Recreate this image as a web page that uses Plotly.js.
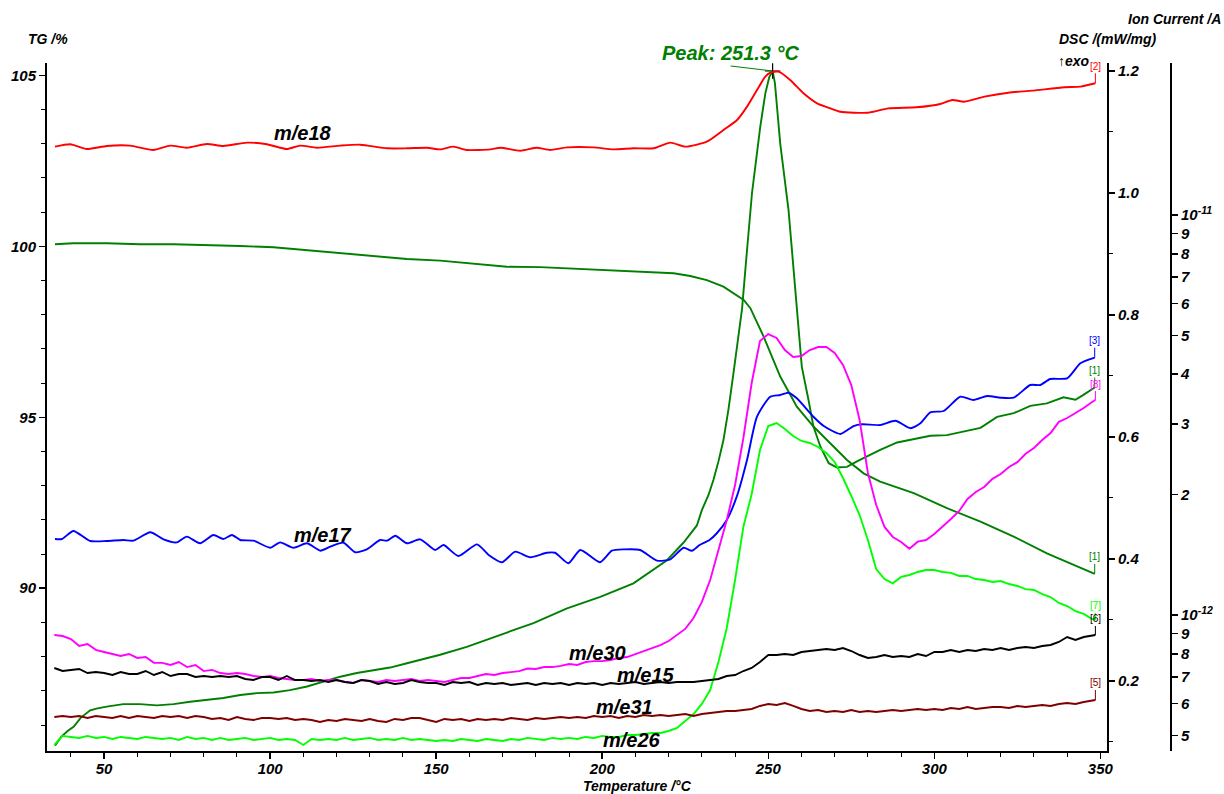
<!DOCTYPE html>
<html><head><meta charset="utf-8">
<script src="https://cdn.plot.ly/plotly-3.0.1.min.js"></script>
<style>html,body{margin:0;padding:0;background:#fff;}#chart{width:1224px;height:794px;}</style>
</head><body><div id="chart"></div>
<script>
// ---------- DATA ----------
// TG (%) vs temperature (°C)
const tgT = [35.2,40.75,50.8,60.8,70.9,80.9,91.0,101.0,111.1,121.1,131.1,141.2,151.2,161.2,171.3,181.3,191.4,201.4,211.4,221.5,226.5,231.5,236.5,239.5,242.6,244.6,248.6,253.6,258.6,263.6,268.7,273.7,278.7,283.7,293.8,303.8,313.9,323.9,333.9,348.3];
const tgV = [100.06,100.09,100.09,100.06,100.06,100.04,100.01,99.97,99.89,99.81,99.73,99.63,99.58,99.50,99.40,99.39,99.34,99.31,99.26,99.21,99.13,99.01,98.82,98.63,98.43,98.19,97.36,96.19,95.31,94.73,94.24,93.75,93.36,93.12,92.78,92.34,91.95,91.51,91.02,90.42];

// DSC (mW/mg)
const dscT = [35.2,37.0,39.0,40.8,43.0,45.8,48.0,50.8,55.8,60.8,65.9,70.9,75.9,80.9,85.9,91.0,96.0,101.0,106.0,111.1,116.1,121.1,126.1,131.1,136.1,141.2,146.2,151.2,159.2,169.3,179.3,189.4,199.4,209.4,214.5,219.5,224.5,228.5,230.0,232.0,233.5,235.0,236.5,238.0,239.5,241.0,242.1,243.5,245.1,247.6,249.1,250.3,251.3,252.0,253.6,256.1,258.3,260.1,262.1,263.6,265.7,268.2,270.7,273.7,276.7,279.7,283.7,288.8,293.8,298.8,303.8,308.8,313.9,318.9,323.9,328.9,333.9,338.9,342.5,344.9,348.3];
const dscV = [0.094,0.108,0.118,0.125,0.140,0.152,0.155,0.158,0.162,0.162,0.160,0.162,0.166,0.169,0.172,0.177,0.180,0.181,0.185,0.191,0.199,0.207,0.213,0.217,0.222,0.229,0.236,0.243,0.256,0.275,0.295,0.319,0.338,0.360,0.379,0.398,0.427,0.455,0.480,0.505,0.530,0.560,0.595,0.645,0.704,0.765,0.810,0.900,1.000,1.109,1.163,1.190,1.200,1.180,1.081,0.972,0.825,0.715,0.661,0.617,0.584,0.557,0.550,0.551,0.560,0.568,0.579,0.591,0.596,0.602,0.603,0.609,0.615,0.633,0.639,0.651,0.655,0.665,0.661,0.669,0.681];

// Ion currents, values in units of 1e-12 A
const me18T = [35.2,39.8,44.8,50.8,57.8,64.8,69.9,74.9,80.9,85.9,93.0,99.0,105.0,109.0,114.1,121.1,127.1,135.2,141.2,147.2,151.2,155.2,159.2,166.3,169.3,175.3,180.3,184.3,189.4,197.4,203.4,209.4,215.5,220.5,225.0,231.5,236.5,240.6,243.6,246.6,249.1,250.6,253.1,256.6,260.6,264.7,268.7,271.7,280.1,286.1,294.6,301.8,305.4,309.0,315.1,322.3,329.5,339.2,344.0,348.5];
const me18V = [14.82,15.03,14.62,14.88,14.91,14.54,14.91,14.73,15.05,14.88,15.17,15.03,14.62,14.91,14.73,14.91,14.99,14.68,14.68,14.73,14.59,14.82,14.54,14.59,14.73,14.48,14.73,14.54,14.76,14.76,14.59,14.68,14.68,15.17,14.82,15.25,16.31,17.28,18.66,20.54,22.17,22.69,22.82,21.75,20.15,19.02,18.48,18.12,18.02,18.48,18.59,18.95,19.39,19.20,19.76,20.22,20.46,20.86,20.94,21.35];

const me17T = [35.2,37.3,40.75,45.8,50.8,55.8,58.8,63.9,67.9,71.9,74.9,78.9,82.9,85.9,88.5,91.0,95.0,100.0,103.0,107.0,111.1,115.1,118.1,122.1,125.6,129.1,133.1,135.2,137.7,141.2,145.2,149.7,152.2,156.7,162.3,165.8,169.8,173.8,178.3,183.3,185.8,189.8,193.4,199.3,202.9,206.4,211.4,216.5,220.5,224.5,227.0,229.3,232.3,234.5,237.5,240.5,243.6,246.6,250.6,253.6,256.1,258.6,263.6,266.7,271.7,275.7,278.2,283.7,288.3,292.8,295.8,298.8,302.8,307.8,311.8,315.9,319.9,323.9,328.9,331.9,334.9,340.0,344.0,348.3];
const me17V = [1.549,1.549,1.622,1.531,1.531,1.540,1.534,1.610,1.546,1.519,1.570,1.511,1.585,1.549,1.585,1.540,1.534,1.473,1.519,1.473,1.511,1.448,1.482,1.516,1.435,1.459,1.540,1.534,1.578,1.511,1.546,1.454,1.496,1.404,1.502,1.413,1.355,1.440,1.394,1.431,1.431,1.347,1.454,1.355,1.448,1.459,1.454,1.367,1.378,1.473,1.448,1.496,1.540,1.601,1.728,1.976,2.441,3.131,3.513,3.548,3.595,3.481,3.131,2.968,2.835,2.968,2.998,2.985,3.060,2.930,3.015,3.212,3.236,3.513,3.447,3.527,3.493,3.493,3.758,3.758,3.890,3.906,4.258,4.398];

// common temperature grid for the noisy ion-current channels
const tempGrid = [35,37.5,40,42.5,45,47.5,50,52.5,55,57.5,
60,62.5,65,67.5,70,72.5,75,77.5,80,82.5,
85,87.5,90,92.5,95,97.5,100,102.5,105,107.5,
110,112.5,115,117.5,120,122.5,125,127.5,130,132.5,
135,137.5,140,142.5,145,147.5,150,152.5,155,157.5,
160,162.5,165,167.5,170,172.5,175,177.5,180,182.5,
185,187.5,190,192.5,195,197.5,200,202.5,205,207.5,
210,212.5,215,217.5,220,222.5,225,227.5,230,232.5,
235,237.5,240,242.5,245,247.5,250,252.5,255,257.5,
260,262.5,265,267.5,270,272.5,275,277.5,280,282.5,
285,287.5,290,292.5,295,297.5,300,302.5,305,307.5,
310,312.5,315,317.5,320,322.5,325,327.5,330,332.5,
335,337.5,340,342.5,345,347.5,348.5];

const me30V = [0.891,0.886,0.871,0.837,0.846,0.818,0.808,0.799,0.790,0.799,
0.781,0.785,0.759,0.759,0.750,0.763,0.741,0.750,0.724,0.729,
0.716,0.712,0.716,0.712,0.704,0.700,0.704,0.696,0.692,0.688,
0.688,0.692,0.684,0.688,0.688,0.680,0.676,0.688,0.684,0.680,
0.688,0.684,0.688,0.692,0.684,0.688,0.684,0.680,0.688,0.696,
0.696,0.704,0.712,0.708,0.716,0.720,0.724,0.735,0.733,0.741,
0.741,0.746,0.754,0.750,0.763,0.767,0.767,0.772,0.781,0.785,
0.799,0.813,0.827,0.841,0.861,0.891,0.923,0.983,1.078,1.223,
1.454,1.728,2.113,2.770,3.802,4.842,5.040,4.926,4.597,4.416,
4.441,4.597,4.677,4.677,4.519,4.217,3.758,3.073,2.265,1.884,
1.660,1.567,1.522,1.465,1.525,1.540,1.594,1.660,1.738,1.820,
1.950,2.030,2.090,2.190,2.251,2.344,2.410,2.530,2.615,2.738,
2.850,3.040,3.108,3.199,3.293,3.409,3.447];

const me15V = [0.7371,0.7244,0.7286,0.7328,0.7161,0.7203,0.7161,0.7079,0.7203,0.7120,
0.7120,0.7244,0.7079,0.7203,0.7039,0.7120,0.7120,0.6998,0.7039,0.6998,
0.7039,0.6998,0.7039,0.6918,0.6879,0.6998,0.6998,0.6879,0.7039,0.6879,
0.6879,0.6839,0.6879,0.6800,0.6879,0.6800,0.6761,0.6879,0.6839,0.6722,
0.6800,0.6722,0.6761,0.6879,0.6800,0.6761,0.6761,0.6683,0.6800,0.6761,
0.6800,0.6683,0.6761,0.6722,0.6761,0.6683,0.6722,0.6761,0.6683,0.6761,
0.6722,0.6761,0.6683,0.6761,0.6722,0.6761,0.6683,0.6761,0.6722,0.6761,
0.6800,0.6722,0.6761,0.6800,0.6761,0.6800,0.6800,0.6800,0.6839,0.6879,
0.6918,0.7039,0.7079,0.7244,0.7371,0.7630,0.7943,0.7943,0.7989,0.7943,
0.8082,0.8128,0.8175,0.8222,0.8175,0.8270,0.8128,0.7943,0.7807,0.7852,
0.7943,0.7852,0.7898,0.7852,0.7989,0.7898,0.8082,0.8082,0.8175,0.8082,
0.8175,0.8128,0.8222,0.8175,0.8270,0.8175,0.8270,0.8318,0.8270,0.8366,
0.8414,0.8561,0.8811,0.8660,0.8811,0.8862,0.8913];

const me31V = [0.5559,0.5592,0.5559,0.5592,0.5528,0.5592,0.5559,0.5528,0.5592,0.5528,
0.5592,0.5559,0.5528,0.5592,0.5559,0.5592,0.5528,0.5592,0.5559,0.5496,
0.5528,0.5464,0.5559,0.5496,0.5464,0.5528,0.5528,0.5496,0.5528,0.5464,
0.5496,0.5464,0.5402,0.5464,0.5433,0.5496,0.5464,0.5433,0.5496,0.5433,
0.5402,0.5496,0.5464,0.5528,0.5528,0.5464,0.5402,0.5496,0.5464,0.5496,
0.5433,0.5496,0.5464,0.5496,0.5464,0.5528,0.5496,0.5464,0.5528,0.5496,
0.5528,0.5559,0.5528,0.5559,0.5528,0.5592,0.5559,0.5592,0.5528,0.5592,
0.5559,0.5623,0.5592,0.5623,0.5592,0.5623,0.5656,0.5592,0.5656,0.5689,
0.5722,0.5755,0.5755,0.5788,0.5821,0.5923,0.5992,0.5957,0.6026,0.5923,
0.5821,0.5755,0.5788,0.5722,0.5755,0.5722,0.5788,0.5722,0.5755,0.5722,
0.5755,0.5788,0.5755,0.5788,0.5821,0.5788,0.5821,0.5788,0.5855,0.5821,
0.5889,0.5821,0.5855,0.5889,0.5889,0.5855,0.5923,0.5889,0.5923,0.5957,
0.5923,0.5992,0.6026,0.5992,0.6061,0.6096,0.6131];

const me26V = [0.4732,0.4985,0.4956,0.4928,0.4985,0.4928,0.4956,0.4899,0.4956,0.4928,
0.4899,0.4956,0.4928,0.4899,0.4928,0.4870,0.4956,0.4899,0.4928,0.4870,
0.4928,0.4870,0.4899,0.4928,0.4870,0.4899,0.4928,0.4870,0.4899,0.4870,
0.4732,0.4899,0.4870,0.4899,0.4870,0.4928,0.4870,0.4899,0.4928,0.4870,
0.4899,0.4870,0.4928,0.4870,0.4899,0.4870,0.4842,0.4870,0.4842,0.4899,
0.4870,0.4842,0.4899,0.4870,0.4842,0.4899,0.4870,0.4928,0.4899,0.4870,
0.4928,0.4899,0.4928,0.4899,0.4956,0.4928,0.4985,0.4956,0.4956,0.5012,
0.5012,0.5041,0.5070,0.5070,0.5129,0.5218,0.5433,0.5656,0.5992,0.6494,
0.7630,0.9279,1.223,1.660,2.007,2.585,2.968,3.020,2.917,2.802,
2.723,2.692,2.630,2.541,2.413,2.200,1.984,1.778,1.540,1.303,
1.230,1.200,1.245,1.259,1.281,1.296,1.296,1.281,1.274,1.252,
1.252,1.230,1.223,1.209,1.216,1.195,1.182,1.161,1.155,1.128,
1.109,1.072,1.053,1.023,1.006,0.977,0.972];

const xTicks = [50,100,150,200,250,300,350];
const tgTicks = [90,95,100,105];
const dscTicks = [0.2,0.4,0.6,0.8,1.0,1.2];
const ionTickVals = [5e-13,6e-13,7e-13,8e-13,9e-13,1e-12,2e-12,3e-12,4e-12,5e-12,6e-12,7e-12,8e-12,9e-12,1e-11];
const ionTickText = ['5','6','7','8','9','10<sup>-12</sup>','2','3','4','5','6','7','8','9','10<sup>-11</sup>'];
const peakLabel = 'Peak: 251.3 °C';

// ---------- STYLE / LAYOUT ----------
const FONT = 'Liberation Sans, Arial, Helvetica, sans-serif';
const TF = {family: FONT, size: 15, color: '#000', weight: 'bold', style: 'italic'};
const COL = {tg:'#008000', dsc:'#008000', m18:'#ff0000', m17:'#0000ff', m30:'#ff00ff', m26:'#00ff00', m15:'#000000', m31:'#800000'};
const PA = 1e-12;
const toA = a => a.map(v => v * PA);
const bi = s => '<b><i>' + s + '</i></b>';

const W = 1224, H = 794, PL = 47, PR = 1107, PT = 63, PB = 751;
const pw = W - PL, ph = PB - PT;
const px = (xp, yp) => ({x: (xp - PL) / pw, y: (PB - yp) / ph});

const LW = 1.9;
function ln(x, y, axis, color, extra) {
  return Object.assign({type:'scatter', mode:'lines', x, y, xaxis:'x', yaxis:axis,
    line: Object.assign({color, width: LW}, extra || {}), hoverinfo:'skip', showlegend:false});
}
const traces = [
  ln(tgT, tgV, 'y', COL.tg),
  ln(dscT, dscV, 'y2', COL.dsc),
  ln(me18T, toA(me18V), 'y3', COL.m18, {shape:'spline', smoothing:0.6}),
  ln(me17T, toA(me17V), 'y3', COL.m17, {shape:'spline', smoothing:0.6}),
  ln(tempGrid, toA(me30V), 'y3', COL.m30),
  ln(tempGrid, toA(me26V), 'y3', COL.m26),
  ln(tempGrid, toA(me15V), 'y3', COL.m15),
  ln(tempGrid, toA(me31V), 'y3', COL.m31)
];
const pk = dscV.indexOf(Math.max(...dscV));
traces.push({type:'scatter', mode:'markers', x:[dscT[pk]], y:[dscV[pk]], xaxis:'x', yaxis:'y2',
  marker:{symbol:'cross-thin', size:11, color:'#000', line:{color:'#000', width:1.2}}, showlegend:false, hoverinfo:'skip'});

function endTag(xs, ys, txt, color, yref, isLog, ay) {
  let y = ys[ys.length - 1];
  if (isLog) y = Math.log10(y * PA);
  return {x: xs[xs.length - 1], y, xref:'x', yref, text: txt, showarrow:true, arrowhead:0,
    arrowwidth:1, arrowcolor: color, ax:0, ay, font:{family: FONT, size:10, color}};
}
function lab(txt, xp, yp, opts) {
  const p = px(xp, yp);
  return Object.assign({x:p.x, y:p.y, xref:'paper', yref:'paper', text: txt, showarrow:false,
    xanchor:'center', yanchor:'middle', font:{family:FONT, size:20, color:'#000', weight:'bold', style:'italic'}}, opts || {});
}
const small = {family:FONT, size:14, color:'#000', weight:'bold', style:'italic'};
const annotations = [
  {x: dscT[pk], y: dscV[pk], xref:'x', yref:'y2', text: peakLabel, showarrow:true, arrowhead:0, arrowwidth:1,
   arrowcolor: COL.dsc, ax:-42, ay:-5, xanchor:'center', yanchor:'bottom',
   font:{family:FONT, size:20, color:COL.dsc, weight:'bold', style:'italic'}},
  endTag(me18T, me18V, '[2]', COL.m18, 'y3', true, -17),
  endTag(me17T, me17V, '[3]', COL.m17, 'y3', true, -17),
  endTag(dscT, dscV, '[1]', COL.dsc, 'y2', false, -17),
  endTag(tempGrid, me30V, '[8]', COL.m30, 'y3', true, -16),
  endTag(tgT, tgV, '[1]', COL.tg, 'y', false, -17),
  endTag(tempGrid, me26V, '[7]', COL.m26, 'y3', true, -14),
  endTag(tempGrid, me15V, '[6]', COL.m15, 'y3', true, -16),
  endTag(tempGrid, me31V, '[5]', COL.m31, 'y3', true, -17),
  lab('m/e18', 303, 133),
  lab('m/e17', 323, 535),
  lab('m/e30', 597, 653),
  lab('m/e15', 646, 675),
  lab('m/e31', 624, 707),
  lab('m/e26', 632, 740),
  lab('TG /%', 48, 39, {font: small}),
  lab('Ion Current /A', 1223, 19, {font: small, xanchor:'right'}),
  lab('DSC /(mW/mg)', 1108, 39, {font: small}),
  lab('↑<b><i>exo</i></b>', 1074, 61, {font:{family:FONT, size:14, color:'#000'}}),
  lab('Temperature /°C', 637, 786, {font: small})
];

const axBase = {showgrid:false, zeroline:false, showline:true, linecolor:'#000', linewidth:2,
  ticks:'outside', ticklen:6, tickwidth:1.5, tickcolor:'#000', tickfont: TF, fixedrange:true};
const layout = {
  width: W, height: H, paper_bgcolor:'#fff', plot_bgcolor:'#fff', showlegend:false,
  margin:{l:PL, r:0, t:PT, b:H - PB, pad:0},
  xaxis: Object.assign({}, axBase, {domain:[0, (PR - PL) / pw], range:[32.8, 352.0],
    tickvals: xTicks, ticktext: xTicks.map(v => bi(v)), ticklabelstandoff: -3,
    minor:{dtick:10, ticks:'outside', ticklen:4, tickwidth:1, tickcolor:'#000'}}),
  yaxis: Object.assign({}, axBase, {range:[85.24, 105.36], tickvals: tgTicks, ticktext: tgTicks.map(v => bi(v)),
    minor:{dtick:1, ticks:'outside', ticklen:4, tickwidth:1, tickcolor:'#000'}}),
  yaxis2: Object.assign({}, axBase, {overlaying:'y', side:'right', anchor:'x', range:[0.0852, 1.2131],
    tickvals: dscTicks, ticktext: dscTicks.map(v => bi(v.toFixed(1))),
    minor:{dtick:0.1, ticks:'outside', ticklen:4, tickwidth:1, tickcolor:'#000'}}),
  yaxis3: Object.assign({}, axBase, {type:'log', overlaying:'y', side:'right', anchor:'free',
    position: (1171 - PL) / pw, range:[-12.34, -10.62], tickvals: ionTickVals, ticktext: ionTickText.map(bi)}),
  annotations
};
Plotly.newPlot('chart', traces, layout, {staticPlot:true, displayModeBar:false});
</script></body></html>
